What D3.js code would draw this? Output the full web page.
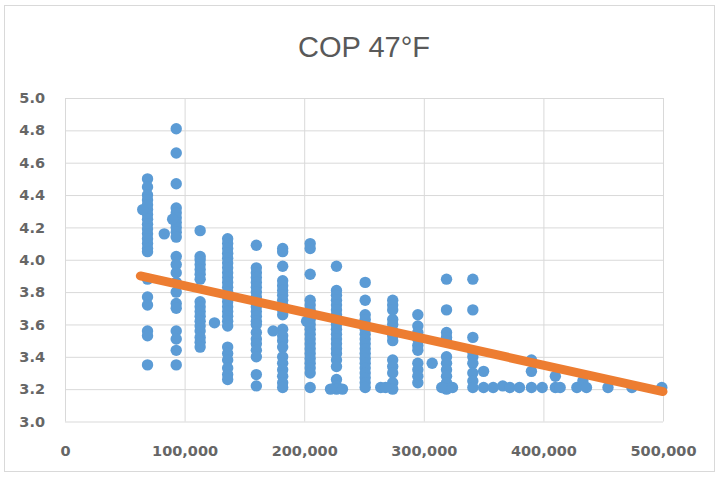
<!DOCTYPE html>
<html>
<head>
<meta charset="utf-8">
<script src="https://cdn.jsdelivr.net/npm/d3@7"></script>
<style>
  body { margin: 0; background: #fff; }
  svg { display: block; }
</style>
</head>
<body>
<svg id="chart"></svg>
<script>
//chart text
const title = 'COP 47°F';

//tick labels
const xTicks = [0, 100000, 200000, 300000, 400000, 500000];
const yTicks = [3.0, 3.2, 3.4, 3.6, 3.8, 4.0, 4.2, 4.4, 4.6, 4.8, 5.0];

//x position of each column of points
const colX = [69000, 93000, 113000, 136000, 160000, 182000, 205000, 227000, 251000, 274000, 295000, 319000, 341000];

//COP values in each column
const colY = [
	[4.50, 4.45, 4.40, 4.37, 4.34, 4.31, 4.28, 4.25, 4.22, 4.19, 4.16, 4.13, 4.10, 4.07, 4.05, 3.88, 3.77, 3.72, 3.56, 3.53, 3.35],
	[4.81, 4.66, 4.47, 4.32, 4.29, 4.26, 4.23, 4.20, 4.17, 4.14, 4.02, 3.97, 3.92, 3.86, 3.80, 3.73, 3.70, 3.56, 3.51, 3.44, 3.35],
	[4.18, 4.02, 4.00, 3.97, 3.94, 3.91, 3.88, 3.74, 3.71, 3.68, 3.65, 3.62, 3.59, 3.56, 3.52, 3.49, 3.46],
	[4.13, 4.10, 4.07, 4.04, 4.01, 3.98, 3.95, 3.92, 3.89, 3.86, 3.83, 3.80, 3.77, 3.74, 3.71, 3.68, 3.65, 3.62, 3.59, 3.46, 3.42, 3.38, 3.33, 3.29, 3.26],
	[4.09, 3.95, 3.92, 3.89, 3.86, 3.83, 3.80, 3.77, 3.74, 3.71, 3.68, 3.65, 3.62, 3.60, 3.55, 3.51, 3.48, 3.44, 3.40, 3.29, 3.22],
	[4.07, 4.05, 3.96, 3.87, 3.84, 3.81, 3.78, 3.75, 3.72, 3.69, 3.66, 3.57, 3.53, 3.50, 3.46, 3.40, 3.36, 3.32, 3.28, 3.24, 3.21],
	[4.10, 4.07, 3.91, 3.75, 3.72, 3.69, 3.66, 3.63, 3.60, 3.57, 3.54, 3.51, 3.48, 3.45, 3.42, 3.39, 3.36, 3.33, 3.30, 3.21],
	[3.96, 3.81, 3.78, 3.75, 3.72, 3.69, 3.66, 3.63, 3.60, 3.57, 3.54, 3.51, 3.48, 3.45, 3.42, 3.38, 3.34, 3.26, 3.22, 3.20],
	[3.86, 3.75, 3.66, 3.63, 3.60, 3.57, 3.54, 3.51, 3.48, 3.45, 3.42, 3.39, 3.36, 3.33, 3.30, 3.27, 3.24, 3.21],
	[3.75, 3.72, 3.69, 3.63, 3.60, 3.56, 3.53, 3.50, 3.38, 3.34, 3.30, 3.24, 3.20],
	[3.66, 3.59, 3.55, 3.51, 3.47, 3.44, 3.36, 3.32, 3.28, 3.24],
	[3.88, 3.69, 3.55, 3.52, 3.50, 3.40, 3.36, 3.32, 3.28, 3.24, 3.20],
	[3.88, 3.69, 3.52, 3.43, 3.40, 3.36, 3.30, 3.25, 3.21]
];

//loose points between and past the columns
const extraX = [65000, 90000, 83000, 125000, 174000, 202000, 222000, 232000, 264000, 268000, 307000, 315000, 324000,
	350000, 350000, 358000, 366000, 372000, 380000, 390000, 390000, 390000, 399000, 410000, 410000, 414000, 428000, 433000, 436000, 454000, 474000, 499000];
const extraY = [4.31, 4.25, 4.16, 3.61, 3.56, 3.62, 3.20, 3.20, 3.21, 3.21, 3.36, 3.21, 3.21,
	3.31, 3.21, 3.21, 3.22, 3.21, 3.21, 3.38, 3.31, 3.21, 3.21, 3.28, 3.21, 3.21, 3.21, 3.25, 3.21, 3.21, 3.21, 3.21];

//trend line ends
const trendX = [63000, 500000];
const trendY = [3.90, 3.185];

//define constants
const svgWidth = 719;
const svgHeight = 477;
const plotLeft = 65;
const plotRight = 663;
const plotTop = 98;
const plotBottom = 421.5;
const textColor = '#595959';
const gridColor = '#d9d9d9';
const labelFont = '"DejaVu Sans", sans-serif';

//build point list
var points = [];
colX.forEach((x, i) => {
	colY[i].forEach(y => points.push({x: x, y: y}));
});
extraX.forEach((x, i) => points.push({x: x, y: extraY[i]}));
var trend = trendX.map((x, i) => ({x: x, y: trendY[i]}));

//configure svg window
var svg = d3.select('#chart')
	.attr('width', svgWidth)
	.attr('height', svgHeight);

//chart frame
svg.append('rect')
	.attr('x', 4.5)
	.attr('y', 5.5)
	.attr('width', svgWidth - 9)
	.attr('height', svgHeight - 11)
	.attr('fill', '#fff')
	.attr('stroke', gridColor);

//scales
var xScale = d3.scaleLinear()
	.domain([0, 500000])
	.range([plotLeft, plotRight]);
var yScale = d3.scaleLinear()
	.domain([3.0, 5.0])
	.range([plotBottom, plotTop]);

//gridlines
svg.append('g')
	.attr('transform', `translate(0, ${plotBottom})`)
	.call(d3.axisBottom(xScale).tickValues(xTicks).tickSize(-(plotBottom - plotTop)).tickFormat(''))
	.call(g => g.select('.domain').remove())
	.call(g => g.selectAll('line').attr('stroke', gridColor));
svg.append('g')
	.attr('transform', `translate(${plotLeft}, 0)`)
	.call(d3.axisLeft(yScale).tickValues(yTicks).tickSize(-(plotRight - plotLeft)).tickFormat(''))
	.call(g => g.select('.domain').remove())
	.call(g => g.selectAll('line').attr('stroke', gridColor));

//axis labels
var xAxis = svg.append('g')
	.attr('transform', `translate(0, ${plotBottom + 21})`)
	.call(d3.axisBottom(xScale).tickValues(xTicks).tickSize(0).tickFormat(d3.format(',')));
var yAxis = svg.append('g')
	.attr('transform', `translate(${plotLeft - 20}, 0)`)
	.call(d3.axisLeft(yScale).tickValues(yTicks).tickSize(0).tickFormat(d3.format('.1f')));
[xAxis, yAxis].forEach(g => {
	g.select('.domain').remove();
	g.selectAll('text')
		.attr('fill', '#666')
		.style('font-family', labelFont)
		.style('font-weight', 'bold')
		.style('font-size', '14.5px');
});
yAxis.selectAll('text').attr('x', 0);

//points
svg.append('g')
	.selectAll('circle')
	.data(points)
	.enter()
	.append('circle')
		.attr('cx', d => xScale(d.x))
		.attr('cy', d => yScale(d.y))
		.attr('r', 5.7)
		.attr('fill', '#5b9bd5');

//trend line
svg.append('path')
	.datum(trend)
	.attr('d', d3.line().x(d => xScale(d.x)).y(d => yScale(d.y)))
	.attr('fill', 'none')
	.attr('stroke', '#ed7d31')
	.attr('stroke-width', 9)
	.attr('stroke-linecap', 'round');

//title
svg.append('text')
	.text(title)
	.attr('x', 364)
	.attr('y', 57)
	.attr('text-anchor', 'middle')
	.attr('fill', textColor)
	.style('font-family', '"Liberation Sans", sans-serif')
	.style('font-size', '29px');
</script>
</body>
</html>
